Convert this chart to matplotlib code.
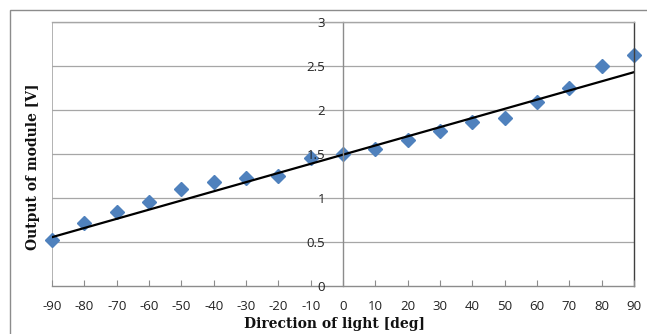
import numpy as np
import matplotlib.pyplot as plt
from matplotlib.patches import Rectangle

# ---------------- Data ----------------
angle_deg = [-90, -80, -70, -60, -50, -40, -30, -20, -10, 0,
             10, 20, 30, 40, 50, 60, 70, 80, 90]
output_v = [0.523, 0.72, 0.837, 0.95, 1.106, 1.185, 1.23, 1.25, 1.46, 1.50,
            1.553, 1.66, 1.76, 1.86, 1.91, 2.09, 2.25, 2.50, 2.625]
# linear trendline as drawn in the reference (end points)
trend_x = [-90, 90]
trend_y = [0.555, 2.43]
x_ticks = list(range(-90, 91, 10))
y_ticks = [0, 0.5, 1, 1.5, 2, 2.5, 3]
y_tick_labels = ["0", "0.5", "1", "1.5", "2", "2.5", "3"]

# ---------------- Figure ----------------
fig = plt.figure(figsize=(6.47, 3.34), dpi=100)
fig.patches.append(Rectangle((10 / 647, -0.1), 1.2, (334 - 10) / 334 + 0.1,
                             transform=fig.transFigure, fill=False,
                             edgecolor="#8c8c8c", linewidth=1.0))

ax = fig.add_axes([52 / 647, 48 / 334, 582 / 647, 264 / 334])
ax.set_xlim(-90, 90)
ax.set_ylim(0, 3)
ax.set_axisbelow(False)  # tick labels drawn over the markers, like Excel

# gridlines
for yv in y_ticks[1:]:
    ax.axhline(yv, color="#a6a6a6", linewidth=0.9, zorder=1)
ax.axvline(-90, color="#a6a6a6", linewidth=1.2, zorder=1)

# spines: y axis crosses at x = 0
ax.spines["left"].set_position(("data", 0))
ax.spines["left"].set_color("#8c8c8c")
ax.spines["bottom"].set_color("#8c8c8c")
ax.spines["top"].set_color("#a6a6a6")
ax.spines["right"].set_color("#404040")
for s in ax.spines.values():
    s.set_linewidth(1.0)

# data + linear trendline
ax.plot(angle_deg, output_v, linestyle="none", marker="D", markersize=7,
        color="#4f81bd", markeredgecolor="#4f81bd", zorder=2.1, clip_on=False)
ax.plot(trend_x, trend_y, color="black", linewidth=1.6, zorder=2.2)

tick_font = dict(family=["Open Sans", "DejaVu Sans"], size=9.5, color="#222222")
ax.set_xticks(x_ticks)
ax.set_xticklabels([str(t) for t in x_ticks], **tick_font)
ax.set_yticks(y_ticks)
ax.set_yticklabels(y_tick_labels, **tick_font)
ax.tick_params(axis="x", direction="in", length=4, color="#8c8c8c", pad=10)
ax.tick_params(axis="y", length=0, pad=13)

label_font = dict(family=["DejaVu Serif"], size=10,
                  fontweight="bold", color="#111111")
fig.text(334 / 647, 1 - 324 / 334, "Direction of light [deg]",
         ha="center", va="center", **label_font)
fig.text(33.5 / 647, 1 - 166.5 / 334, "Output of module [V]",
         ha="center", va="center", rotation=90, **label_font)

fig.savefig("out.png", dpi=100)
